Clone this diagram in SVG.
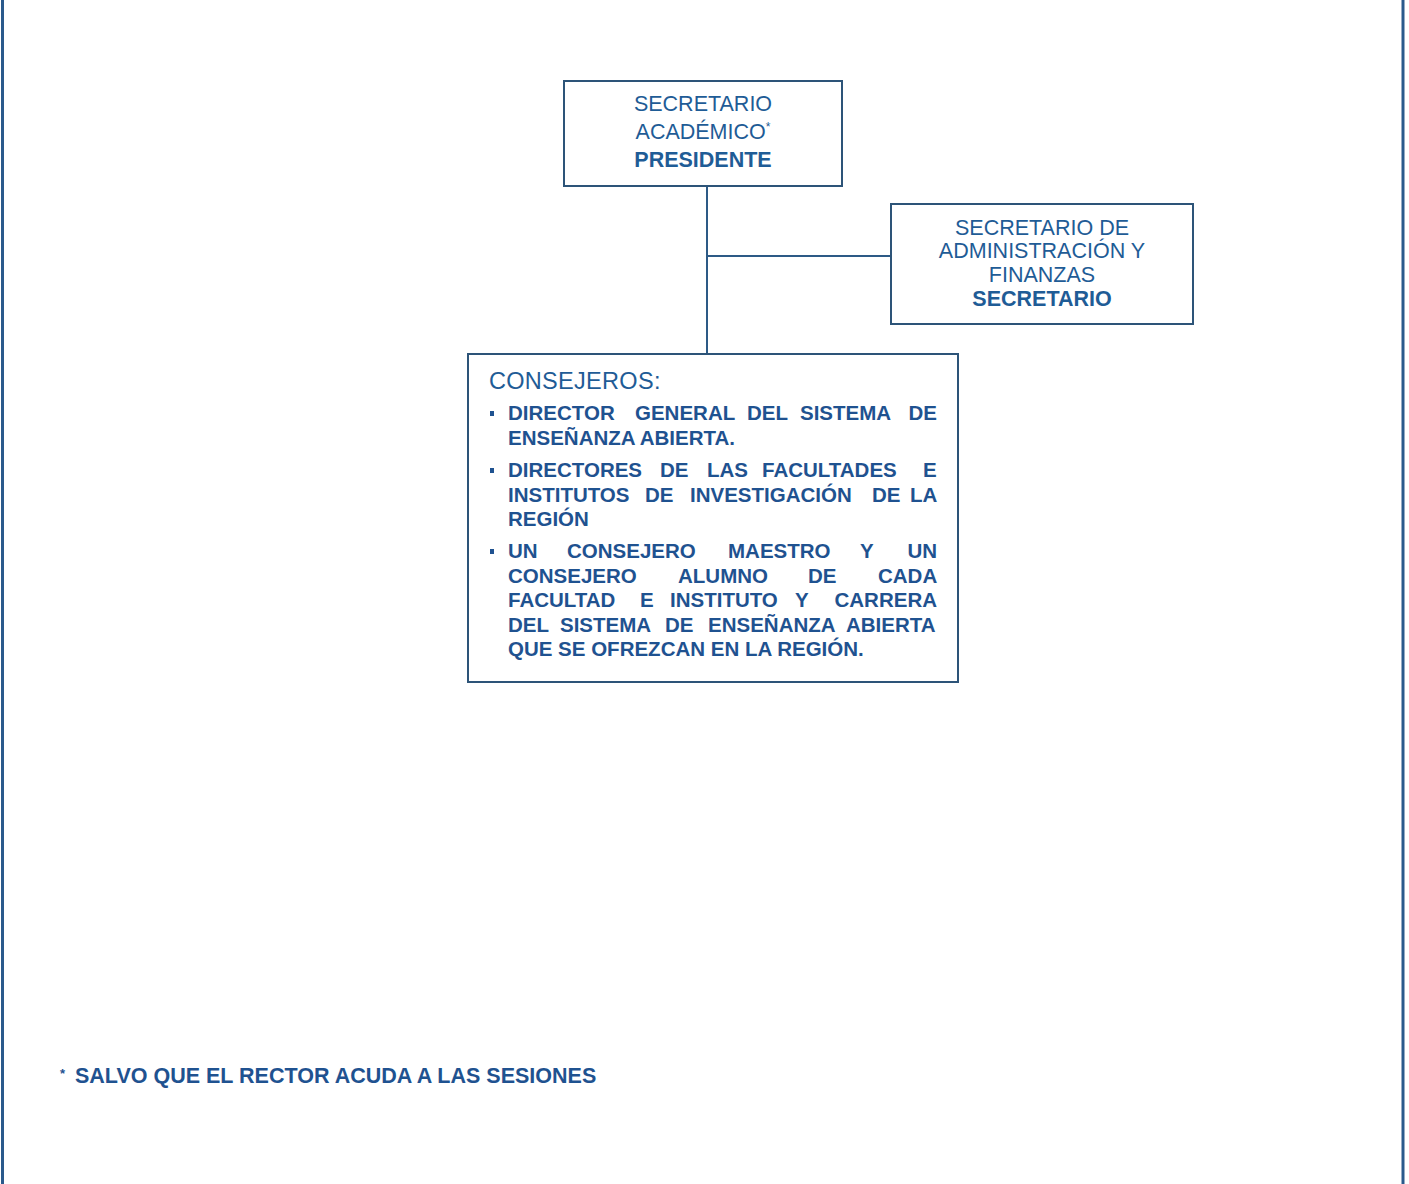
<svg xmlns="http://www.w3.org/2000/svg" width="1409" height="1184" viewBox="0 0 1409 1184">
<style>
.box{fill:#ffffff;stroke:#2d5478;stroke-width:2}
.frame{stroke:#2a5a8c;stroke-width:3}
.conn{stroke:#2d5a86;stroke-width:2;fill:none}
.t{font-family:"Liberation Sans",Arial,sans-serif;fill:#1f5c96;font-size:21.5px}
.c{text-anchor:middle}
.b{font-weight:bold}
.li{font-family:"Liberation Sans",Arial,sans-serif;fill:#1f5290;font-size:20.5px;font-weight:bold}
</style>
<rect width="1409" height="1184" fill="#ffffff"/>
<line class="frame" x1="2.5" y1="0" x2="2.5" y2="1184"/>
<line class="frame" x1="1403" y1="0" x2="1403" y2="1184"/>
<g id="connectors">
<line class="conn" x1="707" y1="186" x2="707" y2="354"/>
<line class="conn" x1="707" y1="256" x2="891" y2="256"/>
</g>
<g id="presidente">
<rect class="box" x="564" y="81" width="278" height="105"/>
<text class="t c" x="703" y="111">SECRETARIO</text>
<text class="t c" x="703" y="139">ACADÉMICO<tspan style="font-size:12px" dy="-8">*</tspan></text>
<text class="t c b" x="703" y="167">PRESIDENTE</text>
</g>
<g id="secretario">
<rect class="box" x="891" y="204" width="302" height="120"/>
<text class="t c" x="1042" y="235">SECRETARIO DE</text>
<text class="t c" x="1042" y="258">ADMINISTRACIÓN Y</text>
<text class="t c" x="1042" y="282">FINANZAS</text>
<text class="t c b" x="1042" y="306">SECRETARIO</text>
</g>
<g id="consejeros">
<rect class="box" x="468" y="354" width="490" height="328"/>
<text class="t" x="489" y="389" style="font-size:23.5px" letter-spacing="0.3">CONSEJEROS:</text>
<rect x="490" y="411" width="4" height="5" fill="#1f5290"/>
<rect x="490" y="468" width="4" height="5" fill="#1f5290"/>
<rect x="490" y="549" width="4" height="5" fill="#1f5290"/>
<text class="li" y="420"><tspan x="508">DIRECTOR</tspan><tspan x="635">GENERAL</tspan><tspan x="747">DEL</tspan><tspan x="800">SISTEMA</tspan><tspan x="908.5">DE</tspan></text>
<text class="li" x="508" y="445">ENSEÑANZA ABIERTA.</text>
<text class="li" y="477"><tspan x="508">DIRECTORES</tspan><tspan x="660">DE</tspan><tspan x="707">LAS</tspan><tspan x="762">FACULTADES</tspan><tspan x="923">E</tspan></text>
<text class="li" y="502"><tspan x="508">INSTITUTOS</tspan><tspan x="645">DE</tspan><tspan x="690">INVESTIGACIÓN</tspan><tspan x="872">DE</tspan><tspan x="910">LA</tspan></text>
<text class="li" x="508" y="526">REGIÓN</text>
<text class="li" y="558"><tspan x="508">UN</tspan><tspan x="567">CONSEJERO</tspan><tspan x="728">MAESTRO</tspan><tspan x="860">Y</tspan><tspan x="907.5">UN</tspan></text>
<text class="li" y="583"><tspan x="508">CONSEJERO</tspan><tspan x="678">ALUMNO</tspan><tspan x="808">DE</tspan><tspan x="878">CADA</tspan></text>
<text class="li" y="607"><tspan x="508">FACULTAD</tspan><tspan x="640">E</tspan><tspan x="670">INSTITUTO</tspan><tspan x="795">Y</tspan><tspan x="834.5">CARRERA</tspan></text>
<text class="li" y="632"><tspan x="508">DEL</tspan><tspan x="560">SISTEMA</tspan><tspan x="665">DE</tspan><tspan x="708">ENSEÑANZA</tspan><tspan x="846">ABIERTA</tspan></text>
<text class="li" x="508" y="656">QUE SE OFREZCAN EN LA REGIÓN.</text>
</g>
<g id="nota">
<text class="li" x="60" y="1078" style="font-size:13px">*</text>
<text class="li" x="75" y="1083" style="font-size:21.5px">SALVO QUE EL RECTOR ACUDA A LAS SESIONES</text>
</g>
</svg>
